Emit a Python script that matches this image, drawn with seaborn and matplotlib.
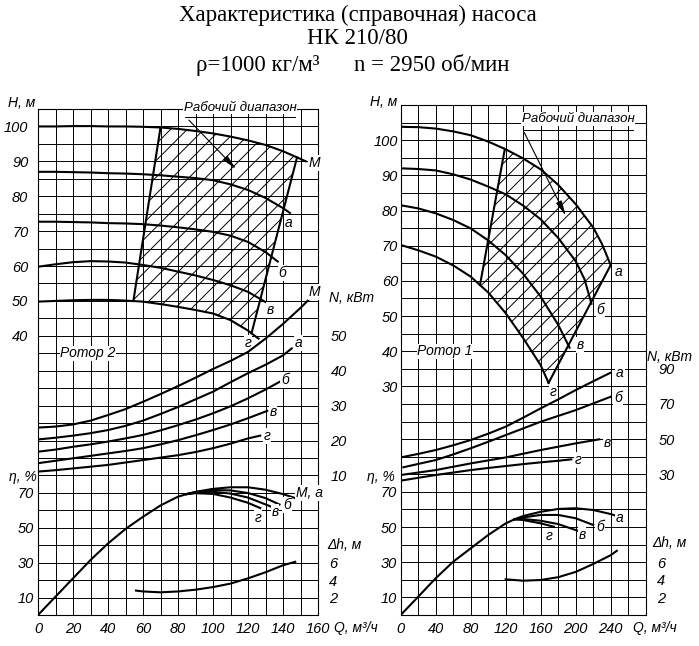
import numpy as np
import matplotlib
matplotlib.use("Agg")
import matplotlib.pyplot as plt
import seaborn as sns

# ---------- Ротор 2 (левая панель), Q в м3/ч ----------
# напор H, м
r2_hM_q = [0, 10, 20, 30, 40, 50, 60, 70, 80, 90, 100, 110, 120, 130, 140, 150, 153]
r2_hM = [100, 100, 100.1, 100.1, 100, 100, 99.9, 99.7, 99.3, 98.7, 98, 97.1, 96, 94.7, 92.9, 90.7, 90.0]
r2_ha_q = [0, 10, 20, 30, 40, 50, 60, 70, 80, 90, 100, 110, 120, 130, 140, 144]
r2_ha = [87, 87, 86.9, 86.8, 86.6, 86.5, 86.3, 86, 85.6, 85.2, 84.6, 83.4, 81.8, 79.5, 76.6, 75.2]
r2_hb_q = [0, 10, 20, 30, 40, 50, 60, 70, 80, 90, 100, 110, 120, 130, 137]
r2_hb = [72.7, 72.7, 72.6, 72.5, 72.3, 72.2, 72, 71.6, 71.1, 70.5, 69.8, 68.7, 66.9, 64, 61.3]
r2_hv_q = [0, 10, 20, 30, 40, 50, 60, 70, 80, 90, 100, 110, 120, 131]
r2_hv = [59.8, 60.5, 61.1, 61.4, 61.3, 61, 60.3, 59.5, 58.4, 57.3, 56, 54.5, 52.6, 49.4]
r2_hg_q = [0, 10, 20, 30, 40, 50, 60, 70, 80, 90, 100, 110, 120, 126]
r2_hg = [49.8, 50, 50.2, 50.3, 50.3, 50.1, 49.8, 49.1, 48.3, 47.4, 46.4, 44.5, 41.5, 39.2]
# рабочий диапазон: углы (верх-лево, верх-право, низ-право, низ-лево)
r2_work_q = [70, 148, 122, 54.5]
r2_work_h = [99.7, 91.1, 40.7, 50.0]

# мощность N, кВт
r2_nM_q = [0, 10, 20, 30, 40, 50, 60, 70, 80, 90, 100, 110, 120, 130, 140, 150, 155]
r2_nM = [23.7, 24, 24.6, 25.7, 27.3, 29, 31.1, 33.3, 35.6, 38, 40.5, 42.8, 45.4, 49.2, 53.4, 58, 60.5]
r2_na_q = [0, 10, 20, 30, 40, 50, 60, 70, 80, 90, 100, 110, 120, 130, 140, 145]
r2_na = [20.3, 20.8, 21.4, 22.1, 23, 24.2, 25.7, 27.6, 29.6, 31.8, 34, 36.7, 39.3, 41.7, 44.4, 46.4]
r2_nb_q = [0, 10, 20, 30, 40, 50, 60, 70, 80, 90, 100, 110, 120, 130, 138]
r2_nb = [16.8, 17.4, 18.2, 18.9, 19.7, 20.6, 21.6, 22.9, 24.4, 26, 27.8, 29.8, 32.1, 34.6, 36.8]
r2_nv_q = [0, 10, 20, 30, 40, 50, 60, 70, 80, 90, 100, 110, 120, 131]
r2_nv = [13.5, 14.2, 14.9, 15.6, 16.3, 17, 17.8, 18.9, 20.1, 21.5, 23, 24.6, 26.4, 28.5]
r2_ng_q = [0, 10, 20, 30, 40, 50, 60, 70, 80, 90, 100, 110, 120, 127]
r2_ng = [11.1, 11.5, 12, 12.5, 13, 13.7, 14.4, 15.1, 15.8, 16.7, 17.8, 19.1, 20.6, 21.4]

# КПД, %
r2_eta_q = [0, 10, 20, 30, 40, 50, 60, 70, 80, 85]
r2_eta = [0, 10.5, 21, 31.5, 41, 49.3, 56.3, 62.8, 67.8, 69.3]
r2_etaa_q = [85, 90, 100, 110, 120, 130, 140, 147]
r2_etaa = [69.3, 70.6, 72.3, 73.2, 73.2, 71.8, 69.3, 67]
r2_etab_q = [85, 90, 100, 110, 120, 130, 138]
r2_etab = [69.3, 70.4, 71.6, 71.4, 69.9, 67, 63.3]
r2_etav_q = [85, 90, 100, 110, 120, 133]
r2_etav = [69.3, 70.2, 70.6, 69.6, 67.3, 62.2]
r2_etag_q = [85, 90, 100, 110, 120, 127]
r2_etag = [69.3, 69.8, 69.4, 67.3, 64.3, 61.3]

# кавитационный запас dh, м
r2_dh_q = [56, 60, 70, 80, 90, 100, 110, 120, 130, 140, 147]
r2_dh = [2.8, 2.7, 2.6, 2.7, 2.9, 3.2, 3.6, 4.2, 4.9, 5.7, 6.1]

# ---------- Ротор 1 (правая панель) ----------
r1_ha_q = [0, 20, 40, 60, 80, 100, 120, 140, 160, 180, 200, 220, 230, 240]
r1_ha = [103.8, 103.7, 103.3, 102.5, 101.4, 99.6, 97.4, 94.8, 91.7, 87.3, 81.8, 75.2, 70.5, 64.5]
r1_hb_q = [0, 20, 40, 60, 80, 100, 120, 140, 160, 180, 200, 210, 218]
r1_hb = [92, 91.8, 91.4, 90.3, 88.8, 86.8, 84.6, 81.4, 77.5, 72.2, 65.6, 60.5, 53.5]
r1_hv_q = [0, 20, 40, 60, 80, 100, 120, 140, 160, 180, 193]
r1_hv = [81.5, 80.6, 79.2, 77.3, 74.9, 71.5, 67.3, 62, 55.5, 47.5, 41]
r1_hg_q = [0, 20, 40, 60, 80, 100, 120, 140, 160, 169]
r1_hg = [70.2, 68.7, 66.9, 64.4, 61.2, 56.7, 50.8, 43.7, 36, 31]
r1_work_q = [119, 240, 169, 90.6]
r1_work_h = [97.5, 64.5, 31, 58.8]

r1_na_q = [0, 20, 40, 60, 80, 100, 120, 140, 160, 180, 200, 220, 240]
r1_na = [39.6, 41.6, 43.8, 46.5, 49.5, 53.1, 57.1, 62.2, 67.5, 72.6, 77.9, 82.9, 87.8]
r1_nb_q = [3, 20, 40, 60, 80, 100, 120, 140, 160, 180, 200, 220, 240]
r1_nb = [34, 35.9, 38.1, 41.3, 44.8, 48.5, 52.3, 56.1, 59.9, 63.2, 66.5, 70.3, 74.1]
r1_nv_q = [0, 20, 40, 60, 80, 100, 120, 140, 160, 180, 200, 227]
r1_nv = [29.6, 31, 32.4, 34.3, 36.2, 37.9, 39.6, 41.7, 43.8, 45.7, 47.6, 49.9]
r1_ng_q = [0, 20, 40, 60, 80, 100, 120, 140, 160, 180, 195]
r1_ng = [26.4, 28, 29.6, 31, 32.4, 33.6, 34.7, 35.8, 36.8, 37.7, 38.5]

r1_eta_q = [0, 20, 40, 60, 80, 100, 120, 130]
r1_eta = [0, 10.4, 20.9, 30.3, 37.9, 45.5, 52.1, 54.4]
r1_etaa_q = [130, 140, 160, 180, 200, 220, 240, 247]
r1_etaa = [54.4, 56.3, 58.7, 60.3, 60.7, 59.7, 57.4, 56.3]
r1_etab_q = [130, 140, 160, 180, 200, 220]
r1_etab = [54.4, 55.5, 56.9, 56.9, 55, 51.2]
r1_etav_q = [130, 140, 160, 180, 200, 203]
r1_etav = [54.4, 54.6, 53.6, 51.7, 48.3, 47.8]
r1_etag_q = [130, 140, 160, 175]
r1_etag = [54.4, 54, 52.1, 50.2]

r1_dh_q = [120, 140, 160, 180, 200, 220, 240, 247]
r1_dh = [4.06, 3.9, 3.98, 4.3, 4.9, 5.8, 6.8, 7.3]

# подписи шкал
r2_q_ticks = [0, 20, 40, 60, 80, 100, 120, 140, 160]
r2_h_ticks = [40, 50, 60, 70, 80, 90, 100]
r2_n_ticks = [10, 20, 30, 40, 50]
r1_q_ticks = [0, 40, 80, 120, 160, 200, 240]
r1_h_ticks = [30, 40, 50, 60, 70, 80, 90, 100]
r1_n_ticks = [30, 50, 70, 90]
eta_ticks = [10, 30, 50, 70]
dh_ticks = [2, 4, 6]

FONT = ["Liberation Sans", "DejaVu Sans"]
SERIF = ["Liberation Serif", "DejaVu Serif"]
plt.rcParams["font.family"] = FONT
plt.rcParams["font.style"] = "italic"
plt.rcParams["font.size"] = 10
plt.rcParams["hatch.linewidth"] = 0.7

LW = 1.5
fig = plt.figure(figsize=(6.99, 6.46), dpi=100)


def curve(ax, q, v, lw=LW):
    sns.lineplot(x=q, y=v, ax=ax, color="black", linewidth=lw,
                 sort=False, estimator=None)


def label(ax, q, v, s, size=10, **kw):
    ax.text(q, v, s, ha="center", va="center", fontsize=size, zorder=6,
            bbox=dict(facecolor="white", edgecolor="none", pad=0.5), **kw)


def work_band(ax, q_top, h_top, q_bot, h_bot, cq, ch):
    # контур рабочей зоны из точек кривых между углами
    xs = [cq[0]] + [q for q in q_top if cq[0] < q < cq[1]] + [cq[1], cq[2]]
    ys = [ch[0]] + [h for q, h in zip(q_top, h_top) if cq[0] < q < cq[1]] + [ch[1], ch[2]]
    inner = [(q, h) for q, h in zip(q_bot, h_bot) if cq[3] < q < cq[2]]
    xs += [q for q, h in inner[::-1]] + [cq[3]]
    ys += [h for q, h in inner[::-1]] + [ch[3]]
    ax.fill(xs, ys, facecolor="none", edgecolor="black", linewidth=0,
            hatch="//", zorder=1.5)
    curve(ax, [cq[0], cq[3]], [ch[0], ch[3]])
    curve(ax, [cq[1], cq[2]], [ch[1], ch[2]])


def panel(rect, qmax, qstep, q_ticks, h_lim, h_ticks, n_lim, n_ticks, h_pad):
    ax = fig.add_axes(rect)
    ax_n = ax.twinx()
    ax_e = ax.twinx()
    ax_d = ax.twinx()
    grid_q = np.arange(0, qmax + 1, qstep)
    ax.set_xticks(grid_q, [str(q) if q in q_ticks else "" for q in grid_q])
    grid_h = np.arange(h_lim[0], h_lim[1] + 1, 5)
    ax.set_yticks(grid_h, [str(h) if h in h_ticks else "" for h in grid_h])
    ax.set_xlim(0, qmax)
    ax.set_ylim(*h_lim)
    ax.grid(True, color="black", linewidth=0.7)
    ax.tick_params(length=0, labelsize=10.5)
    ax.tick_params(axis="x", pad=5)
    ax.tick_params(axis="y", pad=h_pad)
    for s in ax.spines.values():
        s.set_linewidth(0.8)

    ax_n.set_ylim(*n_lim)
    ax_n.set_yticks(n_ticks, [str(v) for v in n_ticks])
    ax_n.tick_params(length=0, pad=9, labelsize=10.5)

    ax_e.set_ylim(0, 290)
    ax_e.yaxis.tick_left()
    ax_e.set_yticks(eta_ticks, [str(v) for v in eta_ticks])
    ax_e.tick_params(length=0, pad=3, labelleft=True, labelright=False,
                     labelsize=10.5)

    ax_d.set_ylim(0, 58)
    ax_d.set_yticks(dh_ticks, [str(v) for v in dh_ticks])
    ax_d.tick_params(length=0, pad=8, labelsize=10.5)

    for a in (ax_n, ax_e, ax_d):
        a.grid(False)
        for s in a.spines.values():
            s.set_visible(False)
    return ax, ax_n, ax_e, ax_d


# ---------- левая панель ----------
ax, ax_n, ax_e, ax_d = panel([38 / 699, 31 / 646, 280 / 699, 506 / 646],
                             160, 10, r2_q_ticks, (-40, 105), r2_h_ticks,
                             (-30, 115), r2_n_ticks, 7)
work_band(ax, r2_hM_q, r2_hM, r2_hg_q, r2_hg, r2_work_q, r2_work_h)
for q, h in [(r2_hM_q, r2_hM), (r2_ha_q, r2_ha), (r2_hb_q, r2_hb),
             (r2_hv_q, r2_hv), (r2_hg_q, r2_hg)]:
    curve(ax, q, h)
for q, n in [(r2_nM_q, r2_nM), (r2_na_q, r2_na), (r2_nb_q, r2_nb),
             (r2_nv_q, r2_nv), (r2_ng_q, r2_ng)]:
    curve(ax_n, q, n)
for q, e in [(r2_eta_q, r2_eta), (r2_etaa_q, r2_etaa), (r2_etab_q, r2_etab),
             (r2_etav_q, r2_etav), (r2_etag_q, r2_etag)]:
    curve(ax_e, q, e)
curve(ax_d, r2_dh_q, r2_dh)
ax.set_xlim(0, 160)
ax.set_ylim(-40, 105)
ax_n.set_ylim(-30, 115)
ax_e.set_ylim(0, 290)
ax_d.set_ylim(0, 58)

label(ax, 158, 89.5, "М")
label(ax, 143, 72.3, "а")
label(ax, 139.5, 58, "б")
label(ax, 132.5, 47.4, "в")
label(ax, 120, 38, "г")
label(ax_n, 158, 62.6, "М")
label(ax_n, 149, 47.9, "а")
label(ax_n, 141, 37.3, "б")
label(ax_n, 134.3, 28.3, "в")
label(ax_n, 131, 21.3, "г")
label(ax_e, 155, 69.9, "М, а")
label(ax_e, 142.3, 63, "б")
label(ax_e, 135.4, 59, "в")
label(ax_e, 125.7, 55.6, "г")
label(ax, 28.6, 35, "Ротор 2")
ax.plot([84, 147], [102.6, 102.6], color="black", linewidth=0.7)
ax.annotate("", xy=(114.3, 87.2), xytext=(85.1, 102.4),
            arrowprops=dict(arrowstyle="-|>,head_length=0.9,head_width=0.18",
                            color="black", linewidth=0.8))
label(ax, 115.4, 105.4, "Рабочий диапазон", size=9.5)
ax.text(-0.011, 1.012, "H, м", transform=ax.transAxes, ha="right", va="center")
ax.text(1.04, 0.626, "N, кВт", transform=ax.transAxes, ha="left", va="center")
ax.text(-0.003, 0.273, "η, %", transform=ax.transAxes, ha="right", va="center")
ax.text(1.032, 0.138, "Δh, м", transform=ax.transAxes, ha="left", va="center")
ax.text(1.056, -0.026, "Q, м³/ч", transform=ax.transAxes, ha="left", va="center")

# ---------- правая панель ----------
ax, ax_n, ax_e, ax_d = panel([400.7 / 699, 31 / 646, 245 / 699, 510 / 646],
                             280, 20, r1_q_ticks, (-35, 110), r1_h_ticks,
                             (-50, 240), r1_n_ticks, 2)
work_band(ax, r1_ha_q, r1_ha, r1_hg_q, r1_hg, r1_work_q, r1_work_h)
for q, h in [(r1_ha_q, r1_ha), (r1_hb_q, r1_hb), (r1_hv_q, r1_hv),
             (r1_hg_q, r1_hg)]:
    curve(ax, q, h)
for q, n in [(r1_na_q, r1_na), (r1_nb_q, r1_nb), (r1_nv_q, r1_nv),
             (r1_ng_q, r1_ng)]:
    curve(ax_n, q, n)
for q, e in [(r1_eta_q, r1_eta), (r1_etaa_q, r1_etaa), (r1_etab_q, r1_etab),
             (r1_etav_q, r1_etav), (r1_etag_q, r1_etag)]:
    curve(ax_e, q, e)
curve(ax_d, r1_dh_q, r1_dh)
ax.set_xlim(0, 280)
ax.set_ylim(-35, 110)
ax_n.set_ylim(-50, 240)
ax_e.set_ylim(0, 290)
ax_d.set_ylim(0, 58)

label(ax, 248.5, 62.6, "а")
label(ax, 228, 51.7, "б")
label(ax, 205, 41.8, "в")
label(ax, 173.7, 28.5, "г")
label(ax_n, 250.6, 87.6, "а")
label(ax_n, 248.3, 73.4, "б")
label(ax_n, 235.8, 47.8, "в")
label(ax_n, 202.6, 38.1, "г")
label(ax_e, 250.6, 55.1, "а")
label(ax_e, 227.8, 50, "б")
label(ax_e, 207.2, 45.5, "в")
label(ax_e, 169.5, 44.9, "г")
label(ax, 50.6, 40, "Ротор 1")
ax.plot([139.8, 265.5], [102.9, 102.9], color="black", linewidth=0.7)
ax.annotate("", xy=(190.1, 77.8), xytext=(139.8, 102.9),
            arrowprops=dict(arrowstyle="-|>,head_length=0.9,head_width=0.18",
                            color="black", linewidth=0.8))
label(ax, 202.6, 106, "Рабочий диапазон", size=9.5)
ax.text(-0.015, 1.006, "H, м", transform=ax.transAxes, ha="right", va="center")
ax.text(1.005, 0.506, "N, кВт", transform=ax.transAxes, ha="left", va="center")
ax.text(-0.023, 0.27, "η, %", transform=ax.transAxes, ha="right", va="center")
ax.text(1.026, 0.141, "Δh, м", transform=ax.transAxes, ha="left", va="center")
ax.text(0.948, -0.026, "Q, м³/ч", transform=ax.transAxes, ha="left", va="center")

# ---------- заголовок ----------
fig.text(357.5 / 699, 1 - 15 / 646, "Характеристика (справочная) насоса",
         ha="center", va="center", family=SERIF, style="normal", fontsize=16.5)
fig.text(357 / 699, 1 - 38 / 646, "НК 210/80",
         ha="center", va="center", family=SERIF, style="normal", fontsize=16.5)
fig.text(353 / 699, 1 - 65 / 646, "ρ=1000 кг/м³      n = 2950 об/мин",
         ha="center", va="center", family=SERIF, style="normal", fontsize=16.5)

fig.savefig("out.png", dpi=100, facecolor="white")
